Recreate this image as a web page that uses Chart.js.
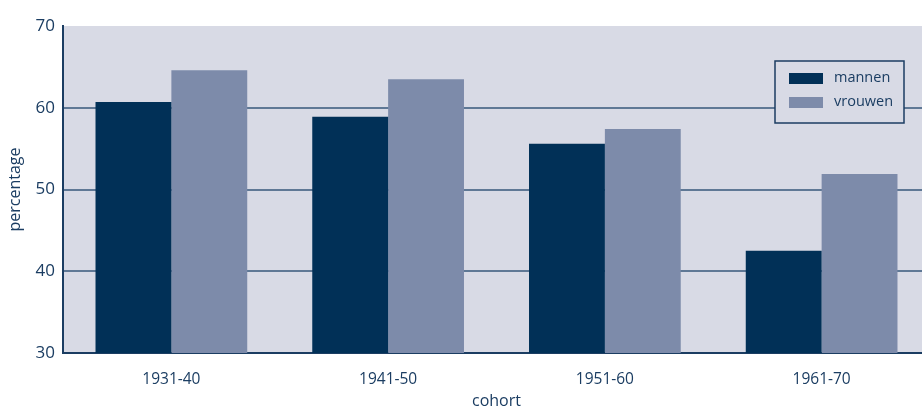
<!DOCTYPE html>
<html><head><meta charset="utf-8">
<script src="https://cdn.jsdelivr.net/npm/chart.js@4/dist/chart.umd.min.js"></script>
<style>html,body{margin:0;padding:0;background:#fff;overflow:hidden}#w{width:930px;height:407px}</style>
</head><body><div id="w"><canvas id="c"></canvas></div>
<script>
const categories = ["1931-40", "1941-50", "1951-60", "1961-70"];
const mannen = [60.7, 58.9, 55.6, 42.5];
const vrouwen = [64.6, 63.5, 57.4, 51.9];
const seriesNames = ["mannen", "vrouwen"];
const yTicks = [30, 40, 50, 60, 70];

const NAVY = "#1b3d62";
const BG = "#d8dae5";
const FONT = "'Open Sans', 'Noto Sans', sans-serif";

const bgPlugin = {
  id: "bg",
  beforeDraw(chart) {
    const a = chart.chartArea, ctx = chart.ctx;
    ctx.save(); ctx.fillStyle = BG;
    ctx.fillRect(a.left, a.top, a.right - a.left, a.bottom - a.top);
    ctx.restore();
  }
};
const legendBox = {
  id: "legendBox",
  afterDatasetsDraw(chart) {
    const a = chart.chartArea, ctx = chart.ctx;
    const x = 775, y = a.top + 35, w = 129, h = 62;
    ctx.save();
    ctx.fillStyle = BG; ctx.fillRect(x, y, w, h);
    ctx.strokeStyle = NAVY; ctx.lineWidth = 1.5; ctx.strokeRect(x, y, w, h);
    ctx.font = "14.5px " + FONT; ctx.textBaseline = "middle";
    chart.data.datasets.forEach((ds, i) => {
      const yy = y + 17 + i * 24;
      ctx.fillStyle = ds.backgroundColor;
      ctx.fillRect(x + 14, yy - 5, 34, 11);
      ctx.fillStyle = NAVY;
      ctx.fillText(ds.label, x + 59, yy);
    });
    ctx.restore();
  }
};

new Chart(document.getElementById("c"), {
  type: "bar",
  data: {
    labels: categories,
    datasets: [
      { label: seriesNames[0], data: mannen, backgroundColor: "#013057" },
      { label: seriesNames[1], data: vrouwen, backgroundColor: "#7d8baa" }
    ]
  },
  options: {
    responsive: true, maintainAspectRatio: false, animation: false,
    layout: { padding: { top: 26, right: 0, left: 0, bottom: 0 } },
    plugins: { legend: { display: false }, tooltip: { enabled: false } },
    datasets: { bar: { categoryPercentage: 0.70, barPercentage: 1.0 } },
    scales: {
      x: {
        grid: { display: false },
        border: { color: NAVY, width: 2 },
        ticks: { color: NAVY, font: { family: FONT, size: 15.5 }, padding: 9 },
        title: { display: true, text: "cohort", color: NAVY, font: { family: FONT, size: 16 }, padding: { top: 0, bottom: -4 } },
        afterFit(s) { s.height = 54; }
      },
      y: {
        min: 30, max: 70,
        afterBuildTicks(s) { s.ticks = yTicks.map(v => ({ value: v })); },
        grid: {
          drawTicks: false,
          color: c => (c.tick && (c.tick.value === 30 || c.tick.value === 70)) ? "rgba(0,0,0,0)" : "#5f7895",
          lineWidth: 2
        },
        border: { color: NAVY, width: 2 },
        ticks: { color: NAVY, font: { family: FONT, size: 17 }, padding: 8 },
        title: { display: true, text: "percentage", color: NAVY, font: { family: FONT, size: 16 }, padding: { top: 6, bottom: 6 } },
        afterFit(s) { s.width = 63; }
      }
    }
  },
  plugins: [bgPlugin, legendBox]
});
</script></body></html>
